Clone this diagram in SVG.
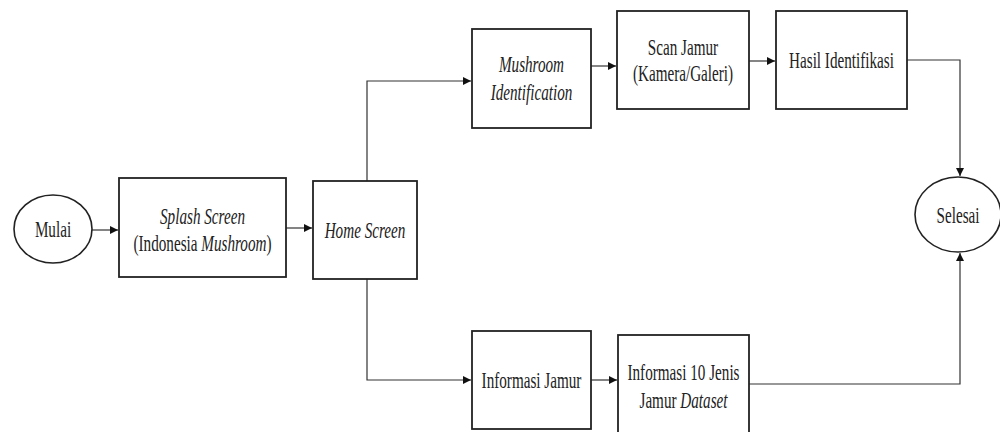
<svg xmlns="http://www.w3.org/2000/svg" width="1000" height="432" viewBox="0 0 1000 432">
  <style>
    .box { fill: #fff; stroke: #222; stroke-width: 1.8; }
    .term { fill: #fff; stroke: #222; stroke-width: 1.6; }
    .link { fill: none; stroke: #333; stroke-width: 1.2; }
    .lbl { font-family: "Liberation Serif", "Times New Roman", serif; font-size: 23px; fill: #222; text-anchor: middle; }
    .it { font-style: italic; }
  </style>
  <defs>
    <marker id="arrow" markerUnits="userSpaceOnUse" markerWidth="9" markerHeight="9" refX="8" refY="4" orient="auto">
      <path d="M0,0 L8,4 L0,8 z" fill="#111"/>
    </marker>
  </defs>

  <g id="connectors">
    <path class="link" d="M92,230 H118" marker-end="url(#arrow)"/>
    <path class="link" d="M286,228 H312" marker-end="url(#arrow)"/>
    <path class="link" d="M367,181 V81 H471" marker-end="url(#arrow)"/>
    <path class="link" d="M591,66 H616" marker-end="url(#arrow)"/>
    <path class="link" d="M749,61 H775" marker-end="url(#arrow)"/>
    <path class="link" d="M907,60 H960 V176" marker-end="url(#arrow)"/>
    <path class="link" d="M367,279 V380 H471" marker-end="url(#arrow)"/>
    <path class="link" d="M591,380 H617" marker-end="url(#arrow)"/>
    <path class="link" d="M749,384 H960 V253" marker-end="url(#arrow)"/>
  </g>

  <g id="mulai">
    <ellipse class="term" cx="53" cy="229" rx="39" ry="34"/>
    <text class="lbl" transform="translate(53 237) scale(0.66 1)">Mulai</text>
  </g>

  <g id="splash">
    <rect class="box" x="119" y="178" width="167" height="99"/>
    <text class="lbl" transform="translate(202.5 224) scale(0.66 1)"><tspan class="it">Splash Screen</tspan></text>
    <text class="lbl" transform="translate(202.5 251) scale(0.66 1)">(Indonesia <tspan class="it">Mushroom</tspan>)</text>
  </g>

  <g id="home">
    <rect class="box" x="313" y="181" width="104" height="98"/>
    <text class="lbl it" transform="translate(365 238) scale(0.66 1)">Home Screen</text>
  </g>

  <g id="mushroom-identification">
    <rect class="box" x="472" y="29" width="119" height="99"/>
    <text class="lbl it" transform="translate(531.5 72) scale(0.66 1)">Mushroom</text>
    <text class="lbl it" transform="translate(531.5 100) scale(0.66 1)">Identification</text>
  </g>

  <g id="scan-jamur">
    <rect class="box" x="617" y="11" width="132" height="98"/>
    <text class="lbl" transform="translate(683 55) scale(0.66 1)">Scan Jamur</text>
    <text class="lbl" transform="translate(683 81) scale(0.66 1)">(Kamera/Galeri)</text>
  </g>

  <g id="hasil-identifikasi">
    <rect class="box" x="776" y="11" width="131" height="98"/>
    <text class="lbl" transform="translate(841.5 68) scale(0.66 1)">Hasil Identifikasi</text>
  </g>

  <g id="selesai">
    <ellipse class="term" cx="958" cy="214.5" rx="43" ry="37.5"/>
    <text class="lbl" transform="translate(958 223) scale(0.66 1)">Selesai</text>
  </g>

  <g id="informasi-jamur">
    <rect class="box" x="472" y="331" width="119" height="98"/>
    <text class="lbl" transform="translate(531.5 388) scale(0.66 1)">Informasi Jamur</text>
  </g>

  <g id="informasi-10-jenis">
    <rect class="box" x="618" y="335" width="131" height="105"/>
    <text class="lbl" transform="translate(683.5 380) scale(0.66 1)">Informasi 10 Jenis</text>
    <text class="lbl" transform="translate(683.5 408) scale(0.66 1)">Jamur <tspan class="it">Dataset</tspan></text>
  </g>
</svg>
